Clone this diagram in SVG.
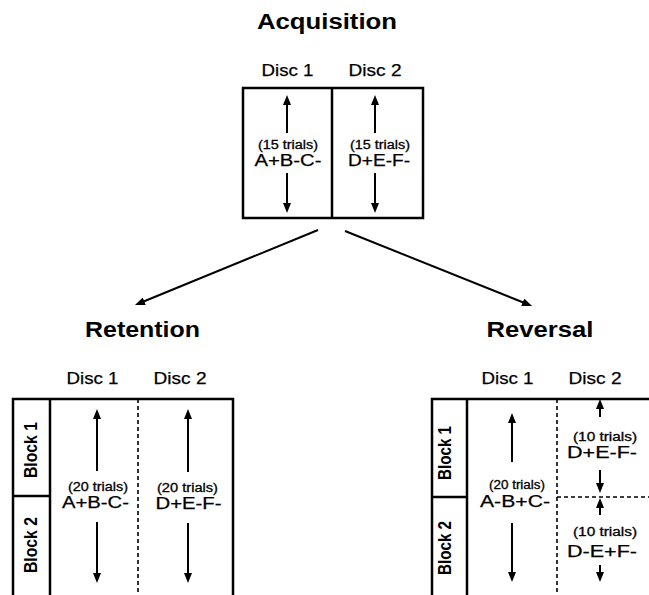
<svg xmlns="http://www.w3.org/2000/svg" width="649" height="595" viewBox="0 0 649 595">
<style>
text{font-family:"Liberation Sans",Arial,sans-serif;fill:#000;text-anchor:middle}
.title{font-size:22px;font-weight:bold}
.disc{font-size:17px;stroke:#000;stroke-width:0.25}
.trials{font-size:12px;stroke:#000;stroke-width:0.3}
.code{font-size:16px;stroke:#000;stroke-width:0.25}
.block{font-size:15px;font-weight:bold}
.box{fill:none;stroke:#000;stroke-width:2.5}
.solid{stroke:#000;stroke-width:2.5;fill:none}
.dash{stroke:#000;stroke-width:1.6;stroke-dasharray:4 3;fill:none}
.arr{stroke:#000;stroke-width:2;fill:none;marker-end:url(#ah)}
</style>
<defs>
<marker id="ah" markerUnits="userSpaceOnUse" markerWidth="10" markerHeight="8" refX="2" refY="4" orient="auto">
<path d="M0,0 L10,4 L0,8 z" fill="#000"/>
</marker>
</defs>
<rect width="649" height="595" fill="#fff"/>

<g id="acquisition">
<text class="title" x="327" y="29" textLength="140" lengthAdjust="spacingAndGlyphs">Acquisition</text>
<text class="disc" x="287.5" y="76" textLength="52" lengthAdjust="spacingAndGlyphs">Disc 1</text>
<text class="disc" x="375" y="76" textLength="53" lengthAdjust="spacingAndGlyphs">Disc 2</text>
<rect class="box" x="243" y="88" width="180" height="130"/>
<line class="solid" x1="332" y1="88" x2="332" y2="218"/>
<line class="arr" x1="287" y1="133" x2="287" y2="103"/>
<line class="arr" x1="287" y1="173" x2="287" y2="205"/>
<line class="arr" x1="375" y1="133" x2="375" y2="103"/>
<line class="arr" x1="375" y1="173" x2="375" y2="205"/>
<text class="trials" x="288" y="149" textLength="60" lengthAdjust="spacingAndGlyphs">(15 trials)</text>
<text class="code" x="288" y="166" textLength="67" lengthAdjust="spacingAndGlyphs">A+B-C-</text>
<text class="trials" x="380" y="149" textLength="60" lengthAdjust="spacingAndGlyphs">(15 trials)</text>
<text class="code" x="379" y="166" textLength="62" lengthAdjust="spacingAndGlyphs">D+E-F-</text>
</g>

<g id="connectors">
<line class="arr" x1="318" y1="230" x2="142.4" y2="302"/>
<line class="arr" x1="345" y1="231" x2="524.6" y2="303"/>
</g>

<g id="retention">
<text class="title" x="142.5" y="337" textLength="115" lengthAdjust="spacingAndGlyphs">Retention</text>
<text class="disc" x="92.5" y="384" textLength="52" lengthAdjust="spacingAndGlyphs">Disc 1</text>
<text class="disc" x="180" y="384" textLength="53" lengthAdjust="spacingAndGlyphs">Disc 2</text>
<path class="solid" d="M13,600 V399 H233 V600"/>
<line class="solid" x1="50" y1="399" x2="50" y2="600"/>
<line class="solid" x1="13" y1="496" x2="50" y2="496"/>
<line class="dash" x1="138" y1="399" x2="138" y2="600"/>
<text class="block" transform="translate(30,450) scale(1.2,1) rotate(-90)" x="0" y="5.5" textLength="56" lengthAdjust="spacingAndGlyphs">Block 1</text>
<text class="block" transform="translate(30,545) scale(1.2,1) rotate(-90)" x="0" y="5.5" textLength="56" lengthAdjust="spacingAndGlyphs">Block 2</text>
<line class="arr" x1="97" y1="471" x2="97" y2="417"/>
<line class="arr" x1="97" y1="522" x2="97" y2="575"/>
<line class="arr" x1="188" y1="472" x2="188" y2="417"/>
<line class="arr" x1="188" y1="523" x2="188" y2="575"/>
<text class="trials" x="98" y="491" textLength="60" lengthAdjust="spacingAndGlyphs">(20 trials)</text>
<text class="code" x="95.5" y="508" textLength="67" lengthAdjust="spacingAndGlyphs">A+B-C-</text>
<text class="trials" x="187.5" y="492" textLength="61" lengthAdjust="spacingAndGlyphs">(20 trials)</text>
<text class="code" x="188.5" y="509" textLength="66" lengthAdjust="spacingAndGlyphs">D+E-F-</text>
</g>

<g id="reversal">
<text class="title" x="540" y="337" textLength="107" lengthAdjust="spacingAndGlyphs">Reversal</text>
<text class="disc" x="507.5" y="384" textLength="52" lengthAdjust="spacingAndGlyphs">Disc 1</text>
<text class="disc" x="595" y="384" textLength="53" lengthAdjust="spacingAndGlyphs">Disc 2</text>
<path class="solid" d="M432,600 V399 H650"/>
<line class="solid" x1="467" y1="399" x2="467" y2="600"/>
<line class="solid" x1="432" y1="497" x2="467" y2="497"/>
<line class="dash" x1="557" y1="399" x2="557" y2="600"/>
<line class="dash" x1="557" y1="497" x2="649" y2="497"/>
<text class="block" transform="translate(444,453) scale(1.2,1) rotate(-90)" x="0" y="5.5" textLength="54" lengthAdjust="spacingAndGlyphs">Block 1</text>
<text class="block" transform="translate(444,548) scale(1.2,1) rotate(-90)" x="0" y="5.5" textLength="54" lengthAdjust="spacingAndGlyphs">Block 2</text>
<line class="arr" x1="512" y1="462" x2="512" y2="421"/>
<line class="arr" x1="512" y1="523" x2="512" y2="574"/>
<text class="trials" x="517" y="489" textLength="56" lengthAdjust="spacingAndGlyphs">(20 trials)</text>
<text class="code" x="515" y="507" textLength="70" lengthAdjust="spacingAndGlyphs">A-B+C-</text>
<line class="arr" x1="600" y1="417" x2="600" y2="407"/>
<line class="arr" x1="600" y1="470" x2="600" y2="485"/>
<line class="arr" x1="600" y1="515" x2="600" y2="506"/>
<line class="arr" x1="600" y1="565" x2="600" y2="574"/>
<text class="trials" x="605" y="441" textLength="64" lengthAdjust="spacingAndGlyphs">(10 trials)</text>
<text class="code" x="602" y="458" textLength="70" lengthAdjust="spacingAndGlyphs">D+E-F-</text>
<text class="trials" x="605" y="536" textLength="64" lengthAdjust="spacingAndGlyphs">(10 trials)</text>
<text class="code" x="602" y="557" textLength="70" lengthAdjust="spacingAndGlyphs">D-E+F-</text>
</g>
</svg>
